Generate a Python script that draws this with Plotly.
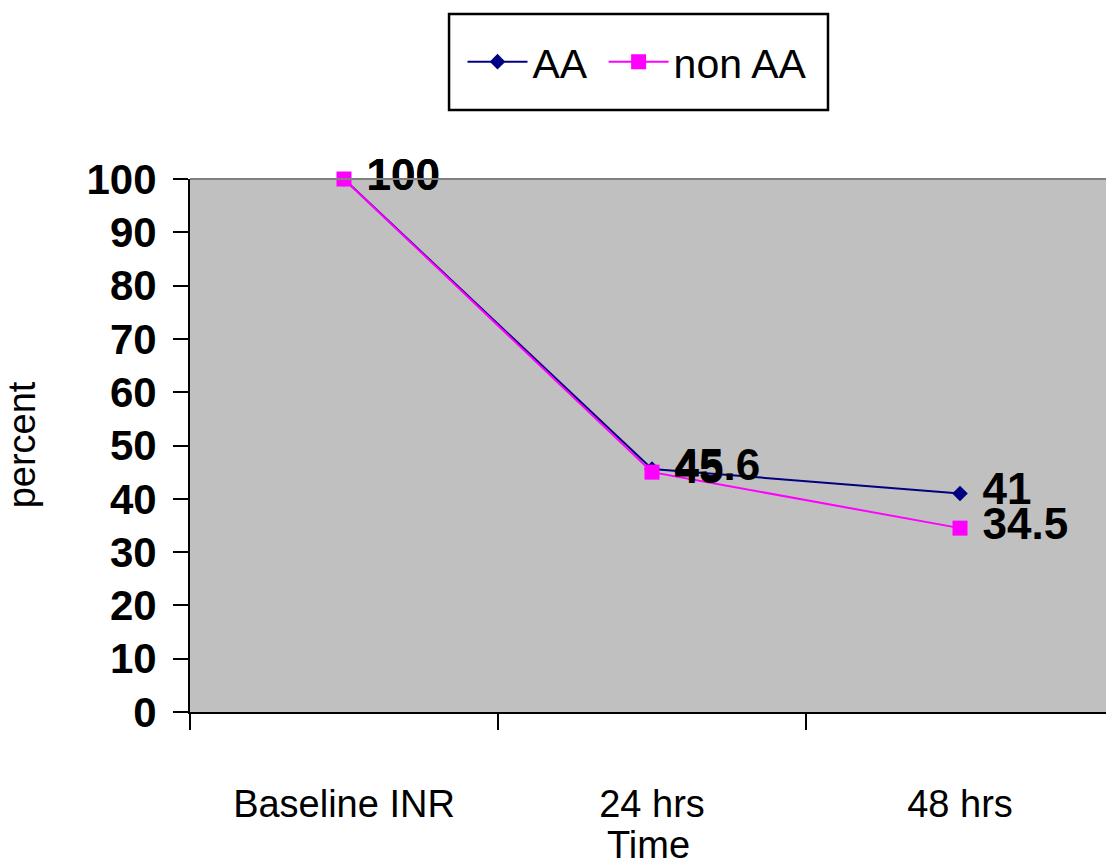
import plotly.graph_objects as go

categories = ["Baseline INR", "24 hrs", "48 hrs"]
aa_values = [100, 45.6, 41]
non_aa_values = [100, 45, 34.5]
y_ticks = [0, 10, 20, 30, 40, 50, 60, 70, 80, 90, 100]

FONT = "Arial, Liberation Sans, sans-serif"
LABEL_FONT = dict(family=FONT, size=44, color="black", weight="bold")

fig = go.Figure()
fig.add_trace(go.Scatter(
    x=categories, y=aa_values, name="AA\u00a0", mode="lines+markers",
    line=dict(color="#000080", width=2),
    marker=dict(symbol="diamond", size=12, color="#000080"),
))
fig.add_trace(go.Scatter(
    x=categories, y=non_aa_values, name="non AA", mode="lines+markers+text",
    line=dict(color="#FF00FF", width=2),
    marker=dict(symbol="square", size=15, color="#FF00FF"),
    texttemplate="\u00a0%{y}", textposition="middle right",
    textfont=LABEL_FONT, cliponaxis=False,
))
# AA data labels drawn above the non AA labels (same offset as the square markers)
fig.add_trace(go.Scatter(
    x=categories, y=aa_values, name="AA", mode="markers+text", showlegend=False,
    marker=dict(symbol="square", size=15, opacity=0),
    texttemplate="\u00a0%{y}", textposition="middle right",
    textfont=LABEL_FONT, cliponaxis=False, hoverinfo="skip",
))

fig.update_layout(
    width=1106, height=867,
    margin=dict(l=190, r=0, t=179, b=155),
    paper_bgcolor="white", plot_bgcolor="#C0C0C0",
    font=dict(family=FONT, color="black"),
    showlegend=True,
    legend=dict(
        orientation="h", x=0.488, xanchor="center", y=1.2195, yanchor="middle",
        font=dict(family=FONT, size=41, color="black"),
        borderwidth=0, bgcolor="rgba(0,0,0,0)", itemwidth=60,
    ),
    xaxis=dict(
        type="category", range=[-0.5, 2.474], tickson="boundaries",
        showgrid=False, zeroline=False,
        showline=True, linecolor="black", linewidth=2,
        ticks="outside", ticklen=16, tickwidth=2, tickcolor="black",
        tickfont=dict(family=FONT, size=38, color="black"),
        ticklabelstandoff=57,
    ),
    yaxis=dict(
        range=[0, 100], tickvals=y_ticks,
        showgrid=False, zeroline=False,
        showline=True, linecolor="black", linewidth=2,
        ticks="outside", ticklen=15, tickwidth=2, tickcolor="black",
        tickfont=dict(family=FONT, size=42, color="black", weight="bold"),
        ticklabelstandoff=8,
    ),
    shapes=[
        dict(type="line", xref="paper", yref="paper", x0=0, x1=1, y0=1, y1=1,
             line=dict(color="#808080", width=2)),
        dict(type="rect", xref="paper", yref="paper", x0=0.2828, x1=0.6965,
             y0=1.1295, y1=1.3096, line=dict(color="black", width=2.5),
             fillcolor="white", layer="below"),
    ],
    annotations=[
        dict(text="percent", xref="paper", yref="paper", x=-0.183, y=0.501,
             textangle=-90, showarrow=False, xanchor="center", yanchor="middle",
             font=dict(family=FONT, size=38, color="black")),
        dict(text="Time", xref="paper", yref="paper", x=0.5, y=-0.2495,
             showarrow=False, xanchor="center", yanchor="middle",
             font=dict(family=FONT, size=38, color="black")),
    ],
)

fig.write_html("out.html")
